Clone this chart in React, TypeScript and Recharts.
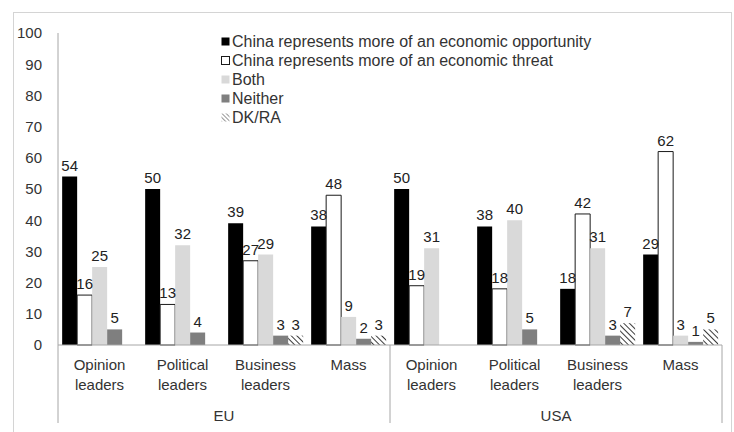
import { Bar, BarChart, LabelList, Legend, XAxis, YAxis } from "recharts";

const categories = [
  "Opinion leaders",
  "Political leaders",
  "Business leaders",
  "Mass",
  "Opinion leaders",
  "Political leaders",
  "Business leaders",
  "Mass",
];
const regions = ["EU", "EU", "EU", "EU", "USA", "USA", "USA", "USA"];
const opportunity = [54, 50, 39, 38, 50, 38, 18, 29];
const threat = [16, 13, 27, 48, 19, 18, 42, 62];
const both = [25, 32, 29, 9, 31, 40, 31, 3];
const neither = [5, 4, 3, 2, null, 5, 3, 1];
const dkra = [null, null, 3, 3, null, null, 7, 5];
const yTicks = [0, 10, 20, 30, 40, 50, 60, 70, 80, 90, 100];

const data = categories.map((cat, i) => ({
  cat,
  region: regions[i],
  opportunity: opportunity[i],
  threat: threat[i],
  both: both[i],
  neither: neither[i],
  dkra: dkra[i],
}));

const series = [
  { key: "opportunity", name: "China represents more of an economic opportunity", fill: "#000000", stroke: "none" },
  { key: "threat", name: "China represents more of an economic threat", fill: "#ffffff", stroke: "#1a1a1a" },
  { key: "both", name: "Both", fill: "#d9d9d9", stroke: "none" },
  { key: "neither", name: "Neither", fill: "#7f7f7f", stroke: "none" },
  { key: "dkra", name: "DK/RA", fill: "url(#hatch)", stroke: "none" },
];

const W = 734;
const H = 432;
const M = { top: 33, right: 12, bottom: 0, left: 13 };
const Y_W = 45;
const BAND = (W - M.left - Y_W - M.right) / categories.length;
const FONT = "'Liberation Sans', Arial, sans-serif";

function CategoryTick(props: any) {
  const { x, y, payload, index } = props;
  const half = payload?.offset || BAND / 2;
  const lines = String(payload.value).split(" ");
  return (
    <g>
      {lines.map((l, i) => (
        <text key={i} x={x} y={y + 25 + i * 20} textAnchor="middle" fontSize={15} fill="#333" fontFamily={FONT}>
          {l}
        </text>
      ))}
      {(index === 0 || index === 4) && (
        <line x1={x - half} x2={x - half} y1={y} y2={y + 78} stroke="#a6a6a6" />
      )}
      {index === 7 && <line x1={x + half} x2={x + half} y1={y} y2={y + 78} stroke="#a6a6a6" />}
      {(index === 1 || index === 5) && (
        <text x={x + half} y={y + 76} textAnchor="middle" fontSize={15} fill="#333" fontFamily={FONT}>
          {regions[index]}
        </text>
      )}
    </g>
  );
}

function LegendBox() {
  return (
    <div style={{ fontFamily: FONT, fontSize: 16, color: "#333", lineHeight: "19px" }}>
      {series.map((s) => (
        <div key={s.key} style={{ display: "flex", alignItems: "center", whiteSpace: "nowrap" }}>
          <svg width={12} height={19}>
            <rect
              x={1.5}
              y={5.5}
              width={8}
              height={8}
              fill={s.key === "dkra" ? "url(#hatchLegend)" : s.fill}
              stroke={s.key === "threat" ? "#1a1a1a" : "none"}
            />
          </svg>
          <span>{s.name}</span>
        </div>
      ))}
    </div>
  );
}

export default function App() {
  return (
    <div style={{ position: "absolute", left: 0, top: 0, width: W, height: H, background: "#fff", overflow: "hidden" }}>
      <div
        style={{
          position: "absolute",
          left: 13,
          top: 12,
          width: 717,
          height: 440,
          border: "1px solid #d4d4d4",
        }}
      />
      <BarChart
        width={W}
        height={H}
        data={data}
        margin={M}
        barGap={0}
        barCategoryGap="5%"
        style={{ position: "absolute", left: 0, top: 0 }}
      >
        <defs>
          <pattern id="hatch" width={4} height={4} patternUnits="userSpaceOnUse" patternTransform="rotate(-45)">
            <line x1={0} y1={0} x2={0} y2={4} stroke="#3a3a3a" strokeWidth={2} />
          </pattern>
          <pattern id="hatchLegend" width={3} height={3} patternUnits="userSpaceOnUse" patternTransform="rotate(-45)">
            <line x1={0} y1={0} x2={0} y2={3} stroke="#4d4d4d" strokeWidth={1.2} />
          </pattern>
        </defs>
        <YAxis
          width={Y_W}
          domain={[0, 100]}
          ticks={yTicks}
          interval={0}
          tickLine={false}
          tickSize={6}
          tickMargin={10}
          axisLine={{ stroke: "#a6a6a6" }}
          tick={{ fontSize: 15, fill: "#333", fontFamily: FONT }}
        />
        <XAxis
          dataKey="cat"
          height={87}
          interval={0}
          tickLine={false}
          tickSize={0}
          tickMargin={0}
          axisLine={{ stroke: "#a6a6a6" }}
          tick={<CategoryTick />}
        />
        <Legend
          layout="horizontal"
          verticalAlign="middle"
          align="center"
          content={() => <LegendBox />}
          wrapperStyle={{ position: "absolute", left: 220, top: 32, width: "auto" }}
        />
        {series.map((s) => (
          <Bar
            key={s.key}
            dataKey={s.key}
            name={s.name}
            fill={s.fill}
            stroke={s.stroke}
            strokeWidth={1}
            isAnimationActive={false}
          >
            <LabelList
              dataKey={s.key}
              position="top"
              offset={6}
              fontSize={15}
              fill="#222"
              fontFamily={FONT}
              formatter={(v: any) => (v == null ? "" : v)}
            />
          </Bar>
        ))}
      </BarChart>
    </div>
  );
}
